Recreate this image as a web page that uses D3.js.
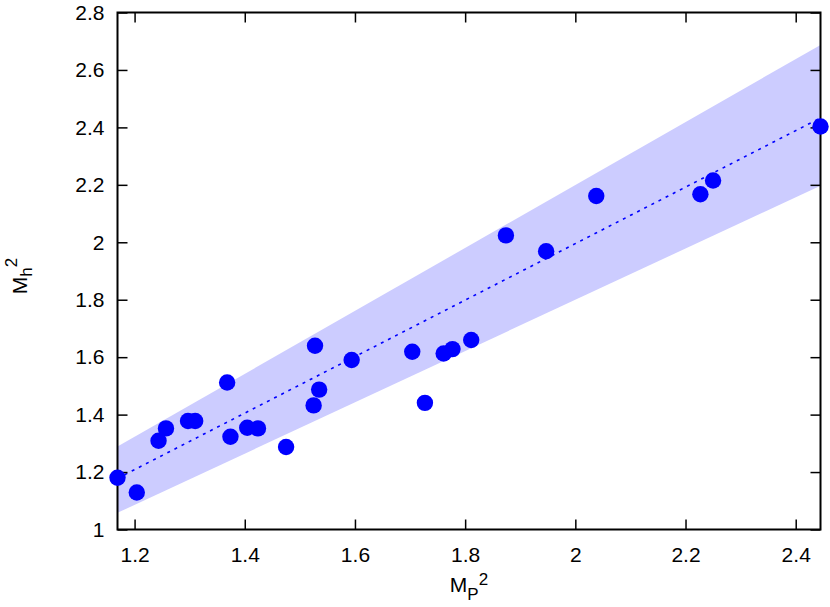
<!DOCTYPE html>
<html>
<head>
<meta charset="utf-8">
<script src="https://cdn.jsdelivr.net/npm/d3@7"></script>
<style>
  html, body { margin: 0; padding: 0; background: #fff; }
  svg { display: block; font-family: "Liberation Sans", Arial, Helvetica, sans-serif; }
</style>
</head>
<body>
<svg id="chart" width="830" height="607"></svg>
<script>
// ---- data ----
const xValues = [1.169, 1.204, 1.2435, 1.257, 1.297, 1.310, 1.368, 1.374, 1.4045, 1.424,
                 1.475, 1.525, 1.5275, 1.535, 1.594, 1.704, 1.727, 1.761, 1.777, 1.811,
                 1.874, 1.947, 2.038, 2.227, 2.250, 2.445];
const yValues = [1.180, 1.129, 1.309, 1.352, 1.378, 1.378, 1.512, 1.323, 1.354, 1.352,
                 1.287, 1.432, 1.640, 1.487, 1.590, 1.619, 1.441, 1.613, 1.628, 1.660,
                 2.024, 1.969, 2.161, 2.167, 2.215, 2.403];
const fitX = [1.169, 2.445];
const fitY = [1.178, 2.433];
const bandLower = [1.058, 2.197];
const bandUpper = [1.289, 2.687];
const xTicks = [1.2, 1.4, 1.6, 1.8, 2.0, 2.2, 2.4];
const xTickLabels = ["1.2", "1.4", "1.6", "1.8", "2", "2.2", "2.4"];
const yTicks = [1.0, 1.2, 1.4, 1.6, 1.8, 2.0, 2.2, 2.4, 2.6, 2.8];
const yTickLabels = ["1", "1.2", "1.4", "1.6", "1.8", "2", "2.2", "2.4", "2.6", "2.8"];
const xDomain = [1.169, 2.445];
const yDomain = [1.0, 2.8];

// ---- layout ----
const svg = d3.select("#chart");
const L = 117.5, R = 820.5, T = 12.5, B = 529.5;
const FS = 21;

const x = d3.scaleLinear().domain(xDomain).range([L, R]);
const y = d3.scaleLinear().domain(yDomain).range([B, T]);

// band
const bandData = fitX.map((d, i) => ({x: d, lo: bandLower[i], hi: bandUpper[i]}));
svg.append("path")
  .datum(bandData)
  .attr("fill", "#ccccff")
  .attr("stroke", "none")
  .attr("d", d3.area().x(d => x(d.x)).y0(d => y(d.lo)).y1(d => y(d.hi)));

// fit line
const fitData = fitX.map((d, i) => ({x: d, y: fitY[i]}));
svg.append("path")
  .datum(fitData)
  .attr("fill", "none")
  .attr("stroke", "#0000ff")
  .attr("stroke-width", 1.6)
  .attr("stroke-dasharray", "3,5")
  .attr("d", d3.line().x(d => x(d.x)).y(d => y(d.y)));

// axes
function styleAxis(g) {
  g.select(".domain").remove();
  g.selectAll(".tick line").attr("stroke", "#000").attr("stroke-width", 1.5);
  g.selectAll(".tick text").attr("fill", "#000").style("font-size", FS + "px")
    .style("font-family", '"Liberation Sans", Arial, Helvetica, sans-serif');
}
svg.append("g").attr("transform", `translate(0,${B})`)
  .call(d3.axisBottom(x).tickValues(xTicks).tickFormat((d, i) => xTickLabels[i]).tickSize(-10).tickPadding(18))
  .call(styleAxis);
svg.append("g").attr("transform", `translate(0,${T})`)
  .call(d3.axisTop(x).tickValues(xTicks).tickFormat("").tickSize(-10))
  .call(styleAxis);
svg.append("g").attr("transform", `translate(${L},0)`)
  .call(d3.axisLeft(y).tickValues(yTicks).tickFormat((d, i) => yTickLabels[i]).tickSize(-10).tickPadding(13))
  .call(styleAxis);
svg.append("g").attr("transform", `translate(${R},0)`)
  .call(d3.axisRight(y).tickValues(yTicks).tickFormat("").tickSize(-10))
  .call(styleAxis);

// frame
svg.append("rect")
  .attr("x", L).attr("y", T).attr("width", R - L).attr("height", B - T)
  .attr("fill", "none").attr("stroke", "#000").attr("stroke-width", 2);

// points
const pts = xValues.map((d, i) => ({x: d, y: yValues[i]}));
svg.append("g").selectAll("circle").data(pts).join("circle")
  .attr("cx", d => x(d.x)).attr("cy", d => y(d.y)).attr("r", 8.2)
  .attr("fill", "#0000ff");

// axis labels
const xl = svg.append("text")
  .attr("x", 469).attr("y", 592)
  .attr("text-anchor", "middle")
  .style("font-size", FS + "px").attr("fill", "#000");
xl.append("tspan").text("M");
xl.append("tspan").attr("dy", 7.5).style("font-size", "17px").text("P");
xl.append("tspan").attr("dy", -15).style("font-size", "17px").text("2");

const yl = svg.append("text")
  .attr("transform", "translate(27,276) rotate(-90)")
  .attr("text-anchor", "middle")
  .style("font-size", FS + "px").attr("fill", "#000");
yl.append("tspan").text("M");
yl.append("tspan").attr("dy", 5).style("font-size", "17px").text("h");
yl.append("tspan").attr("dy", -15).style("font-size", "17px").text("2");
</script>
</body>
</html>
